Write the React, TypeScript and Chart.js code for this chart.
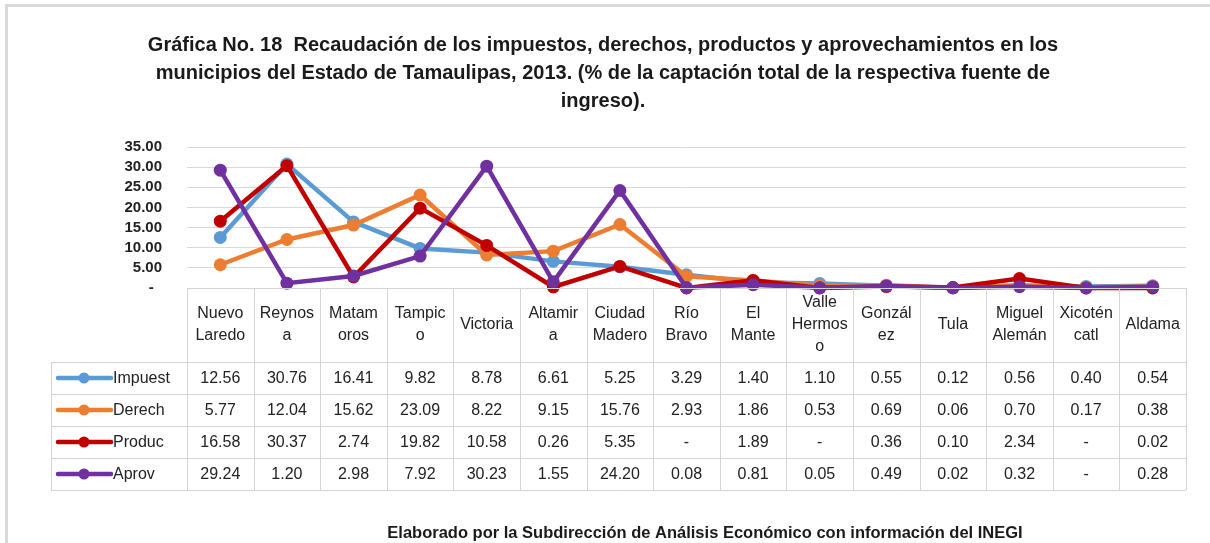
import React, { useEffect, useRef } from "react";
import { Chart, registerables } from "chart.js";

Chart.register(...registerables);

// ---- data ----
const categories: string[][] = [
  ["Nuevo", "Laredo"],
  ["Reynos", "a"],
  ["Matam", "oros"],
  ["Tampic", "o"],
  ["Victoria"],
  ["Altamir", "a"],
  ["Ciudad", "Madero"],
  ["Río", "Bravo"],
  ["El", "Mante"],
  ["Valle", "Hermos", "o"],
  ["Gonzál", "ez"],
  ["Tula"],
  ["Miguel", "Alemán"],
  ["Xicotén", "catl"],
  ["Aldama"],
];

const seriesNames = ["Impuest", "Derech", "Produc", "Aprov"];

const impuestos = [12.56, 30.76, 16.41, 9.82, 8.78, 6.61, 5.25, 3.29, 1.4, 1.1, 0.55, 0.12, 0.56, 0.4, 0.54];
const derechos = [5.77, 12.04, 15.62, 23.09, 8.22, 9.15, 15.76, 2.93, 1.86, 0.53, 0.69, 0.06, 0.7, 0.17, 0.38];
const productos = [16.58, 30.37, 2.74, 19.82, 10.58, 0.26, 5.35, 0, 1.89, 0, 0.36, 0.1, 2.34, 0, 0.02];
const aprovechamientos = [29.24, 1.2, 2.98, 7.92, 30.23, 1.55, 24.2, 0.08, 0.81, 0.05, 0.49, 0.02, 0.32, 0, 0.28];

const seriesValues = [impuestos, derechos, productos, aprovechamientos];
const seriesColors = ["#5B9BD5", "#ED7D31", "#C00000", "#7030A0"];

const yMin = 0;
const yMax = 35;
const yStep = 5;

const titleLines = [
  "Gráfica No. 18  Recaudación de los impuestos, derechos, productos y aprovechamientos en los",
  "municipios del Estado de Tamaulipas, 2013. (% de la captación total de la respectiva fuente de",
  "ingreso).",
];
const footerText = "Elaborado por la Subdirección de Análisis Económico con información del INEGI";

const FONT = "'Liberation Sans', Arial, sans-serif";

const fmt = (v: number) => (v === 0 ? "-" : v.toFixed(2));

const framePlugin = {
  id: "frame",
  beforeDraw(chart: any) {
    const ctx = chart.ctx;
    ctx.save();
    ctx.fillStyle = "#ffffff";
    ctx.fillRect(0, 0, chart.width, chart.height);
    ctx.fillStyle = "#d9d9d9";
    ctx.fillRect(5, 4, chart.width - 5, 3);
    ctx.fillRect(5, 4, 3, chart.height - 4);
    ctx.restore();
  },
  afterDraw(chart: any) {
    const ctx = chart.ctx;
    ctx.save();
    ctx.fillStyle = "#1a1a1a";
    ctx.textAlign = "center";
    ctx.textBaseline = "middle";
    ctx.font = `bold 20px ${FONT}`;
    titleLines.forEach((t, i) => ctx.fillText(t, 603, 45 + i * 28));
    ctx.font = `bold 16.5px ${FONT}`;
    ctx.fillText(footerText, 705, 533);
    ctx.restore();
  },
};

const tablePlugin = {
  id: "dataTable",
  afterDatasetsDraw(chart: any) {
    const ctx = chart.ctx;
    const xs = chart.scales.x;
    const ys = chart.scales.y;
    const n = categories.length;
    const colW = (xs.right - xs.left) / n;
    const top = Math.round(ys.getPixelForValue(0));
    const headerBottom = top + 74;
    const rowH = 32;
    const bottom = headerBottom + rowH * seriesNames.length;
    const legendLeft = 51;
    const tableLeft = Math.round(xs.left);
    const tableRight = Math.round(xs.right);

    ctx.save();
    ctx.strokeStyle = "#d4d4d4";
    ctx.lineWidth = 1;
    ctx.beginPath();
    ctx.moveTo(tableLeft, top + 0.5);
    ctx.lineTo(tableRight, top + 0.5);
    for (let r = 0; r <= seriesNames.length; r++) {
      const yy = headerBottom + r * rowH + 0.5;
      ctx.moveTo(legendLeft, yy);
      ctx.lineTo(tableRight, yy);
    }
    for (let i = 0; i <= n; i++) {
      const xx = Math.round(xs.getPixelForValue(0) - colW / 2 + i * colW) + 0.5;
      ctx.moveTo(xx, top);
      ctx.lineTo(xx, bottom);
    }
    ctx.moveTo(legendLeft + 0.5, headerBottom);
    ctx.lineTo(legendLeft + 0.5, bottom);
    ctx.stroke();

    ctx.fillStyle = "#222222";
    ctx.font = `16px ${FONT}`;
    ctx.textAlign = "center";
    ctx.textBaseline = "middle";
    const headerMid = (top + headerBottom) / 2;
    const lh = 22;
    categories.forEach((lines, i) => {
      const cx = xs.getPixelForValue(i);
      const startY = headerMid - ((lines.length - 1) * lh) / 2;
      lines.forEach((l, k) => ctx.fillText(l, cx, startY + k * lh));
    });

    seriesValues.forEach((vals, r) => {
      const cy = headerBottom + r * rowH + rowH / 2 + 1;
      vals.forEach((v, i) => {
        ctx.fillText(fmt(v), xs.getPixelForValue(i), cy);
      });
    });

    seriesNames.forEach((name, r) => {
      const cy = headerBottom + r * rowH + rowH / 2;
      ctx.strokeStyle = seriesColors[r];
      ctx.lineWidth = 4.5;
      ctx.lineCap = "round";
      ctx.beginPath();
      ctx.moveTo(58, cy);
      ctx.lineTo(111, cy);
      ctx.stroke();
      ctx.fillStyle = seriesColors[r];
      ctx.beginPath();
      ctx.arc(84, cy, 5.5, 0, Math.PI * 2);
      ctx.fill();
      ctx.fillStyle = "#222222";
      ctx.textAlign = "left";
      ctx.fillText(name, 113, cy + 1);
    });
    ctx.restore();
  },
};

export default function App() {
  const canvasRef = useRef<HTMLCanvasElement | null>(null);

  useEffect(() => {
    document.body.style.margin = "0";
    const canvas = canvasRef.current;
    if (!canvas) return;
    Chart.defaults.font.family = FONT;

    const chart = new Chart(canvas, {
      type: "line",
      data: {
        labels: categories,
        datasets: seriesNames.map((name, i) => ({
          label: name,
          data: seriesValues[i],
          borderColor: seriesColors[i],
          backgroundColor: seriesColors[i],
          pointBackgroundColor: seriesColors[i],
          pointBorderColor: seriesColors[i],
          borderWidth: 4.5,
          pointRadius: 6.5,
          pointBorderWidth: 0,
          tension: 0,
          clip: false as any,
          order: seriesNames.length - i,
        })),
      },
      options: {
        animation: false,
        responsive: true,
        maintainAspectRatio: false,
        layout: { padding: { left: 0, right: 24, top: 147, bottom: 255 } },
        plugins: {
          legend: { display: false },
          title: { display: false },
          tooltip: { enabled: false },
        },
        scales: {
          x: {
            type: "category",
            display: false,
            offset: true,
          },
          y: {
            min: yMin,
            max: yMax,
            afterFit: (scale: any) => {
              scale.width = 187;
            },
            border: { display: false },
            grid: { color: "#d9d9d9", lineWidth: 1, drawTicks: false },
            ticks: {
              stepSize: yStep,
              autoSkip: false,
              padding: 25,
              color: "#222222",
              font: { size: 15, weight: "bold", family: FONT },
              callback: (v: any) => (Number(v) === 0 ? "-  " : Number(v).toFixed(2)),
            },
          },
        },
      },
      plugins: [framePlugin, tablePlugin],
    });
    return () => chart.destroy();
  }, []);

  return (
    <div style={{ width: 1210, height: 543, position: "relative" }}>
      <canvas ref={canvasRef} />
    </div>
  );
}
